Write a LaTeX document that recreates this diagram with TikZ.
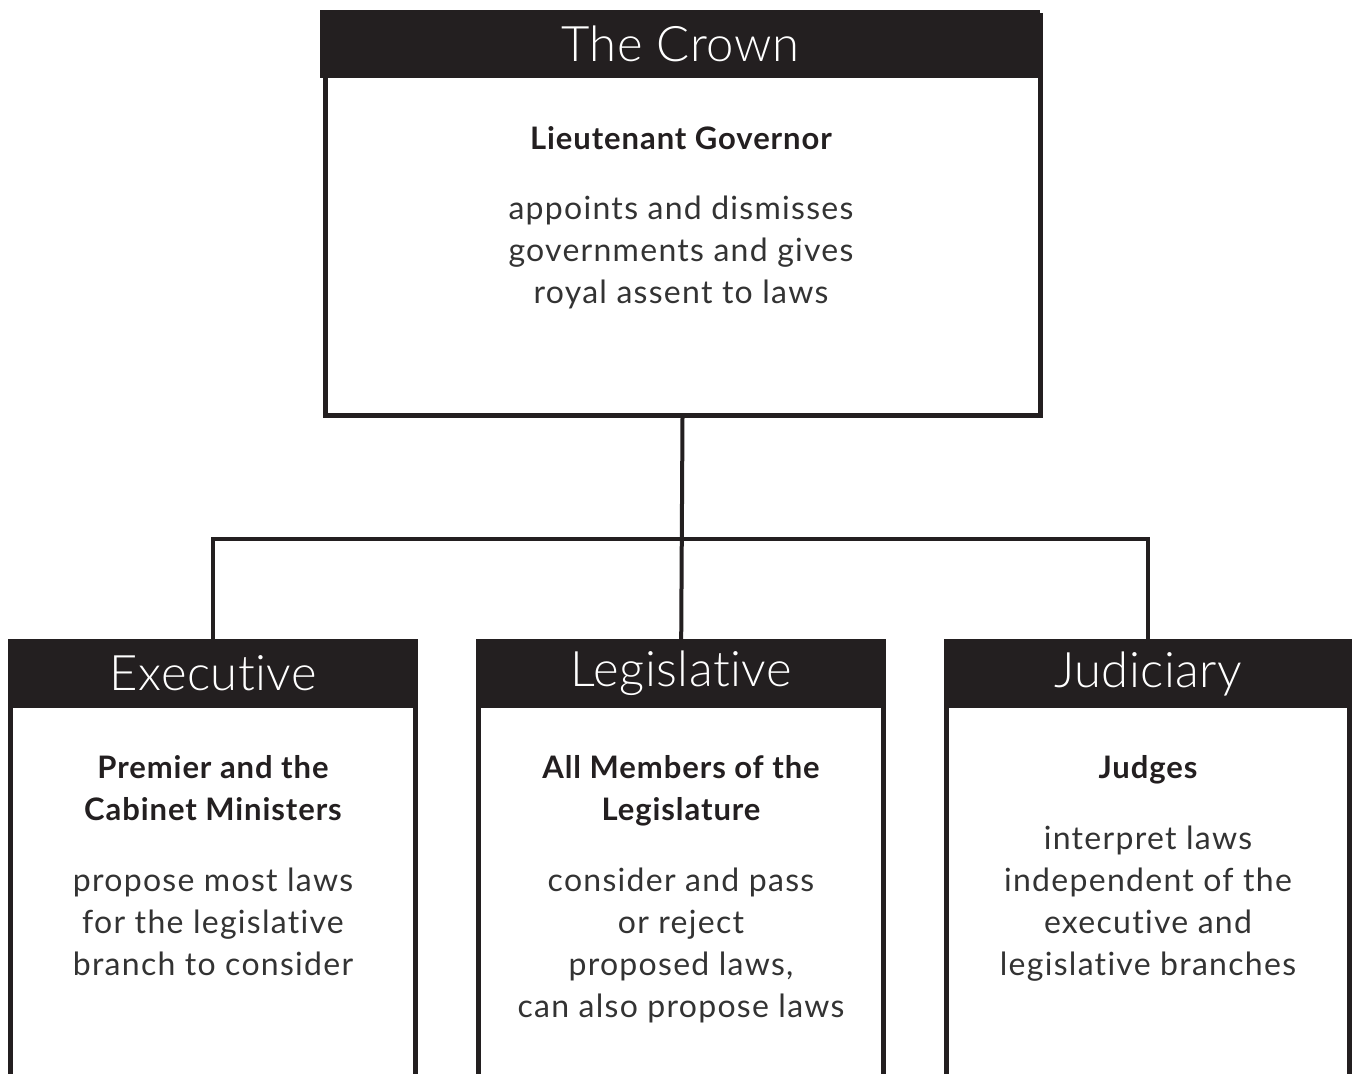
\documentclass[tikz,border=0pt]{standalone}
\usepackage{fontspec}
\setmainfont{Lato}[Ligatures=NoCommon]
\newfontfamily\lightfont{Lato Light}[Ligatures=NoCommon, LetterSpace=1]
\newfontfamily\bodyfont{Lato}[Ligatures=NoCommon, LetterSpace=4]
\newfontfamily\boldfont{Lato Bold}[Ligatures=NoCommon, LetterSpace=3]
\definecolor{ink}{HTML}{231F20}
\definecolor{txt}{HTML}{333333}
\tikzset{
  x=1pt, y=-1pt,
  hdr/.style={fill=ink, text=white, inner sep=0pt, anchor=north west,
    minimum height=69pt, font=\lightfont\fontsize{49}{52}\selectfont},
  boxline/.style={draw=ink, line width=5pt},
  conn/.style={draw=ink, line width=4pt},
  ttl/.style={text=ink, align=center, font=\boldfont\fontsize{31}{42}\selectfont, inner sep=0pt},
  body/.style={text=txt, align=center, font=\bodyfont\fontsize{32}{42}\selectfont, inner sep=0pt}
}
\begin{document}
\begin{tikzpicture}
\useasboundingbox (0,0) rectangle (1353,1074);
\clip (0,0) rectangle (1353,1074);
% Crown box
\node[draw=ink, line width=5pt, minimum width=715pt, minimum height=400pt, inner sep=0pt, anchor=north west] (crown) at (322.5,12.5) {};
\node[hdr, minimum width=720pt, minimum height=68pt] (crownhdr) at (320,10) {The Crown};
\node[ttl] (lg) at (681,138) {Lieutenant Governor};
\node[body, anchor=north] (lgtxt) at (681,196) {appoints and dismisses\\governments and gives\\royal assent to laws};
% Bottom boxes
\draw[boxline] (10.5,1090) -- (10.5,641.5) -- (415.5,641.5) -- (415.5,1090);
\draw[boxline] (478.5,1090) -- (478.5,641.5) -- (883.5,641.5) -- (883.5,1090);
\draw[boxline] (946.5,1090) -- (946.5,641.5) -- (1349.5,641.5) -- (1349.5,1090);
\node[hdr, minimum width=410pt] (exechdr) at (8,639) {Executive};
\node[hdr, minimum width=410pt] (leghdr) at (476,639) {Legislative};
\node[hdr, minimum width=408pt] (judhdr) at (944,639) {Judiciary};
% Executive text
\node[ttl, anchor=north] (exttl) at (213,755) {Premier and the\\Cabinet Ministers};
\node[body, anchor=north] (extxt) at (213,868) {propose most laws\\for the legislative\\branch to consider};
% Legislative text
\node[ttl, anchor=north] (lgttl) at (681,755) {All Members of the\\Legislature};
\node[body, anchor=north] (lgbody) at (681,868) {consider and pass\\or reject\\proposed laws,\\can also propose laws};
% Judiciary text
\node[ttl, anchor=north] (jdttl) at (1148,755) {Judges};
\node[body, anchor=north] (jdtxt) at (1148,826) {interpret laws\\independent of the\\executive and\\legislative branches};
% Connectors
\coordinate (bus) at (681,539);
\draw[conn] (crown.south) -- (leghdr.north);
\draw[conn] (exechdr.north) -- (exechdr.north |- bus) -- (judhdr.north |- bus) -- (judhdr.north);
\end{tikzpicture}
\end{document}
